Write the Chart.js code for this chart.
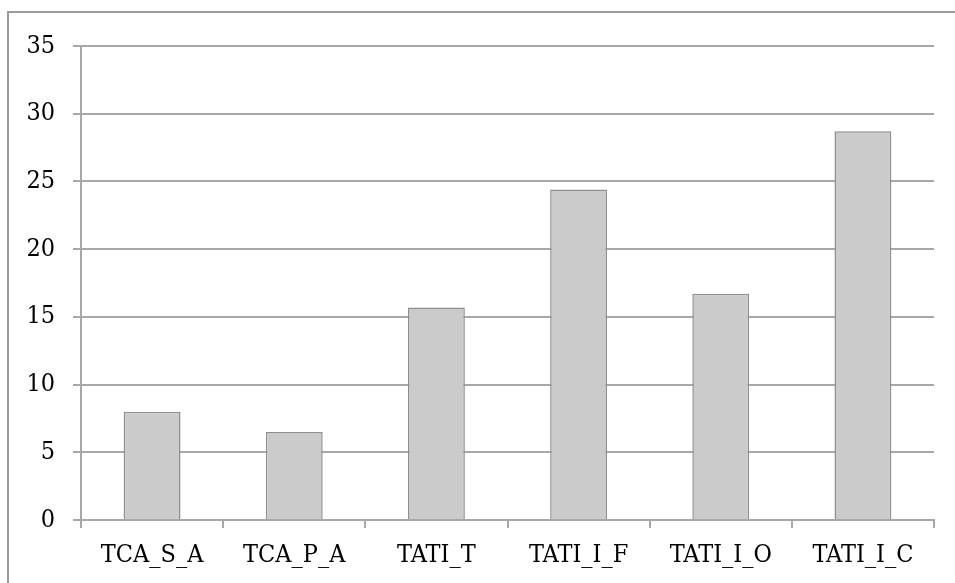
<!DOCTYPE html>
<html>
<head>
<meta charset="utf-8">
<script src="https://cdn.jsdelivr.net/npm/chart.js@4/dist/chart.umd.min.js"></script>
<style>
  html, body { margin: 0; padding: 0; background: #fff; }
  #wrap { width: 955px; height: 583px; position: relative; }
</style>
</head>
<body>
<div id="wrap"><canvas id="chart"></canvas></div>
<script>
// donnees
const categories = ["TCA_S_A", "TCA_P_A", "TATI_T", "TATI_I_F", "TATI_I_O", "TATI_I_C"];
const valeurs = [8.0, 6.5, 15.7, 24.4, 16.7, 28.7];
const yTicks = [0, 5, 10, 15, 20, 25, 30, 35];

const police = { family: "'DejaVu Serif Condensed', 'DejaVu Serif', serif", size: 25 };

// cadre gris en haut et a gauche
const cadre = {
    id: 'cadre',
    beforeDraw(chart) {
        const ctx = chart.ctx;
        ctx.save();
        ctx.strokeStyle = '#9a9a9a';
        ctx.lineWidth = 2;
        ctx.beginPath();
        ctx.moveTo(8, 583);
        ctx.lineTo(8, 12);
        ctx.lineTo(955, 12);
        ctx.stroke();
        ctx.restore();
    }
};

new Chart(document.getElementById("chart"), {
    type: "bar",
    data: {
        labels: categories,
        datasets: [{
            data: valeurs,
            backgroundColor: "#cbcbcb",
            borderColor: "#8f8f8f",
            borderWidth: 1.5,
            barPercentage: 0.4,
            categoryPercentage: 1
        }]
    },
    options: {
        responsive: true,
        maintainAspectRatio: false,
        animation: false,
        layout: { padding: { left: 0, right: 21, top: 46, bottom: 0 } },
        plugins: {
            legend: { display: false },
            tooltip: { enabled: false }
        },
        scales: {
            x: {
                grid: {
                    drawOnChartArea: false,
                    drawTicks: true,
                    tickLength: 8,
                    color: "#a8a8a8",
                    lineWidth: 2
                },
                border: { color: "#a8a8a8", width: 2 },
                ticks: {
                    color: "#000",
                    padding: 12,
                    font: police
                },
                afterFit(scale) { scale.height = 63; }
            },
            y: {
                min: 0,
                max: 35,
                afterBuildTicks(scale) {
                    scale.ticks = yTicks.map(v => ({ value: v }));
                },
                grid: {
                    color: "#a8a8a8",
                    lineWidth: 2,
                    tickLength: 8
                },
                border: { color: "#a8a8a8", width: 2 },
                ticks: {
                    color: "#000",
                    padding: 18,
                    font: police
                },
                afterFit(scale) { scale.width = 81; }
            }
        }
    },
    plugins: [cadre]
});
</script>
</body>
</html>
